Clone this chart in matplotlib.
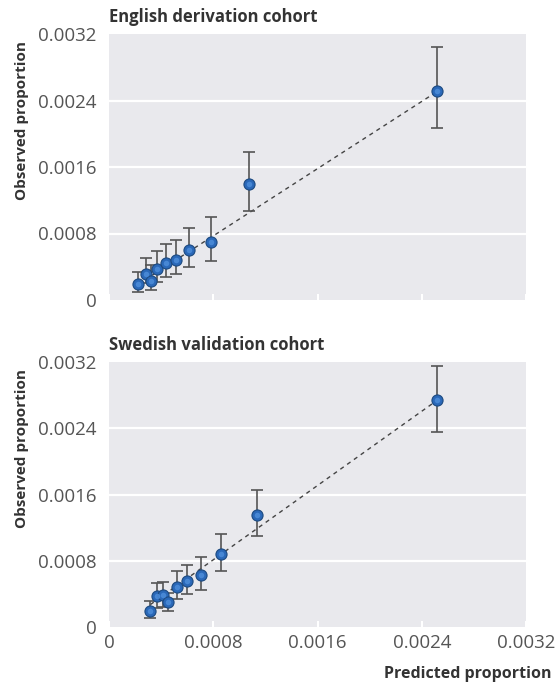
import matplotlib
matplotlib.use("Agg")
import matplotlib.pyplot as plt

# predicted vs observed proportions
pred_eng = [0.000225, 0.000284, 0.00032, 0.000371, 0.000436, 0.000515, 0.000614, 0.000781, 0.001075, 0.00252]
obs_eng  = [0.000189, 0.000309, 0.000233, 0.000369, 0.000441, 0.000481, 0.000601, 0.000694, 0.0014, 0.002514]
lo_eng   = [0.000096, 0.0002, 0.00012, 0.00022, 0.00028, 0.00031, 0.0004, 0.000473, 0.00107, 0.00207]
hi_eng   = [0.00034, 0.000509, 0.00042, 0.000593, 0.000674, 0.000722, 0.000866, 0.000998, 0.00178, 0.003044]
fit_eng_x = [0.000225, 0.00252]
fit_eng_y = [0.00019, 0.00251]

pred_swe = [0.000317, 0.000366, 0.000412, 0.000455, 0.000522, 0.000601, 0.000709, 0.00086, 0.001137, 0.00252]
obs_swe  = [0.000192, 0.000373, 0.000385, 0.000305, 0.000485, 0.000553, 0.000626, 0.000878, 0.001347, 0.002743]
lo_swe   = [0.000112, 0.00023, 0.000244, 0.000192, 0.000333, 0.000393, 0.00045, 0.000674, 0.001095, 0.00236]
hi_swe   = [0.000313, 0.000533, 0.000545, 0.000409, 0.000678, 0.000746, 0.000842, 0.00112, 0.00165, 0.00315]
fit_swe_x = [0.000317, 0.00252]
fit_swe_y = [0.00027, 0.00274]

ticks = [0, 0.0008, 0.0016, 0.0024, 0.0032]
tick_labels = ["0", "0.0008", "0.0016", "0.0024", "0.0032"]

plt.rcParams['font.family'] = ['Open Sans', 'DejaVu Sans']

W, H = 555, 683
fig = plt.figure(figsize=(W / 100, H / 100), dpi=100)
fig.patch.set_facecolor('white')

def px_axes(left, top, right, bottom):
    return fig.add_axes([left / W, 1 - bottom / H, (right - left) / W, (bottom - top) / H])

def panel(ax, pred, obs, lo, hi, fx, fy, title, show_x):
    ax.set_facecolor('#e9e9ed')
    for s in ax.spines.values():
        s.set_visible(False)
    ax.set_xlim(0, 0.0032)
    ax.set_ylim(0, 0.0032)
    for t in ticks[1:-1]:
        ax.axhline(t, color='white', lw=1.6, zorder=1)
    ax.plot(fx, fy, ls=(0, (3, 3)), color='#444444', lw=1.0, zorder=2)
    yerr = [[o - l for o, l in zip(obs, lo)], [h - o for o, h in zip(obs, hi)]]
    ax.errorbar(pred, obs, yerr=yerr, fmt='none', ecolor='#555555', elinewidth=1.2,
                capsize=4, capthick=1.2, zorder=3)
    ax.plot(pred, obs, 'o', ms=8, mfc='#2a68b8', mec='#1d4a80', mew=0.8, zorder=4)
    # small highlight to mimic the shaded balls
    ax.plot(pred, obs, 'o', ms=4, mfc='#4f8fdc', mec='none', alpha=0.8, zorder=5)
    ax.set_xticks(ticks)
    ax.set_yticks(ticks)
    ax.set_yticklabels(tick_labels)
    if show_x:
        ax.set_xticklabels(tick_labels)
    else:
        ax.set_xticklabels([])
    ax.tick_params(axis='x', direction='in', length=4, width=1.5, color='white',
                   labelsize=13.5, labelcolor='#555555', pad=5)
    ax.tick_params(axis='y', length=0, labelsize=13.5, labelcolor='#555555', pad=9)
    ax.text(0, 1.03, title, transform=ax.transAxes, fontsize=12, fontweight='bold',
            color='#333333', ha='left', va='bottom')

ax1 = px_axes(109, 34, 526, 300)
panel(ax1, pred_eng, obs_eng, lo_eng, hi_eng, fit_eng_x, fit_eng_y,
      "English derivation cohort", False)

ax2 = px_axes(109, 362, 526, 627)
panel(ax2, pred_swe, obs_swe, lo_swe, hi_swe, fit_swe_x, fit_swe_y,
      "Swedish validation cohort", True)

fig.text(22 / W, 1 - 121 / H, "Observed proportion", rotation=90, fontsize=11,
         fontweight='bold', color='#333333', ha='center', va='center')
fig.text(22 / W, 1 - 448 / H, "Observed proportion", rotation=90, fontsize=11,
         fontweight='bold', color='#333333', ha='center', va='center')
fig.text(552 / W, 1 - 674 / H, "Predicted proportion", fontsize=11.5,
         fontweight='bold', color='#333333', ha='right', va='center')

fig.savefig("out.png", dpi=100)
